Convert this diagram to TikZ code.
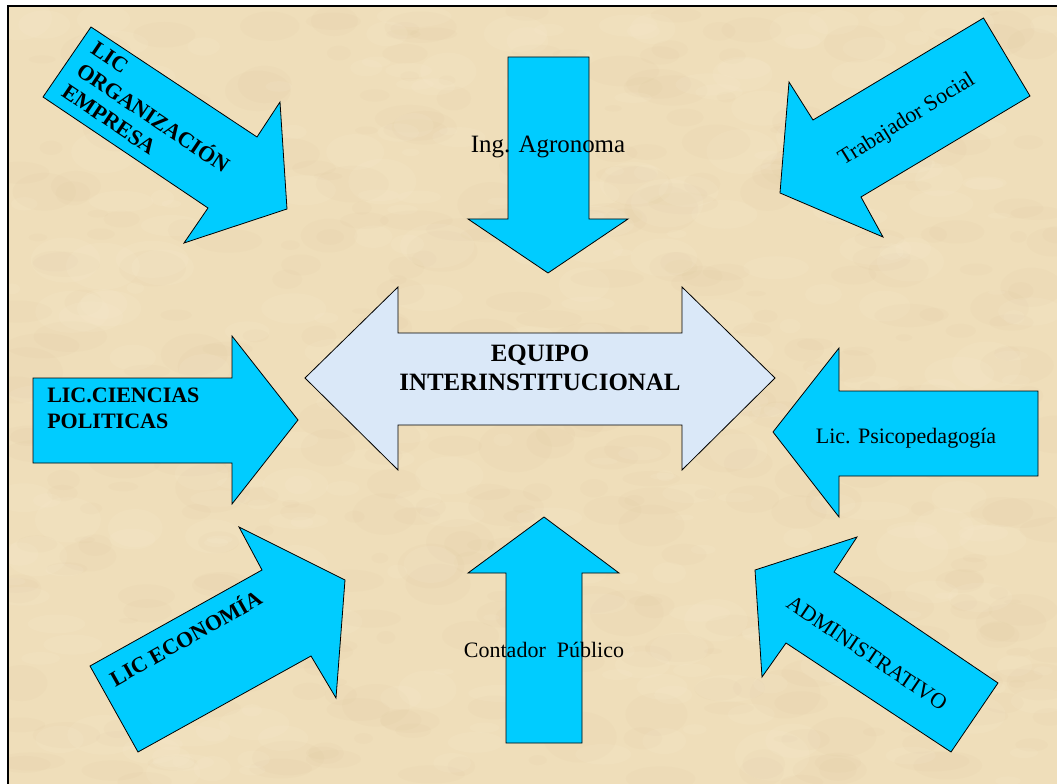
\documentclass[tikz,border=0pt]{standalone}
\usepackage{fontspec}
\setmainfont{Liberation Serif}
\definecolor{arrowcyan}{RGB}{0,204,255}
\definecolor{palecyan}{RGB}{218,232,248}
\definecolor{parchment}{RGB}{239,222,186}
\definecolor{blobdark}{RGB}{200,172,122}
\definecolor{bloblight}{RGB}{250,240,215}
\tikzset{
  bluearrow/.style={draw=black, line width=0.6pt, fill=arrowcyan, line join=miter},
  centerarrow/.style={draw=black, line width=0.6pt, fill=palecyan, line join=miter},
  lbl/.style={inner sep=0pt, font=\fontsize{16.5}{19.7}\selectfont},
  lblbold/.style={inner sep=0pt, font=\fontsize{16.5}{19.5}\selectfont\bfseries},
  lblbig/.style={inner sep=0pt, font=\fontsize{18.7}{21.8}\selectfont},
}
\begin{document}
\begin{tikzpicture}[x=0.75pt,y=-0.75pt]
\useasboundingbox (0,0) rectangle (1057,784);
\fill[white] (0,0) rectangle (1057,784);
% parchment background
\fill[parchment] (8,6) rectangle (1057,784);
\begin{scope}
\clip (8,6) rectangle (1057,784);
\pgfmathsetseed{12}
\foreach \i in {1,...,420}{
  \pgfmathsetmacro{\bx}{8+rnd*1049}
  \pgfmathsetmacro{\by}{6+rnd*778}
  \pgfmathsetmacro{\br}{8+rnd*30}
  \pgfmathsetmacro{\bs}{0.25+rnd*0.45}
  \fill[blobdark, opacity=0.045] (\bx,\by) ellipse [x radius=\br, y radius=\br*\bs];
}
\foreach \i in {1,...,300}{
  \pgfmathsetmacro{\bx}{8+rnd*1049}
  \pgfmathsetmacro{\by}{6+rnd*778}
  \pgfmathsetmacro{\br}{8+rnd*30}
  \pgfmathsetmacro{\bs}{0.25+rnd*0.45}
  \fill[bloblight, opacity=0.12] (\bx,\by) ellipse [x radius=\br, y radius=\br*\bs];
}
\end{scope}
\draw[black, line width=1.1pt] (8,784) -- (8,6) -- (1057,6);

% arrows
\draw[bluearrow] (91,27) -- (257,137) -- (280,102) -- (287,209) -- (184,243) -- (208,208) -- (43,97) -- cycle;
\draw[bluearrow] (508,57) -- (589,57) -- (589,219) -- (628,219) -- (548,273) -- (468,219) -- (508,219) -- cycle;
\draw[bluearrow] (983.5,18) -- (1030,96) -- (861,197) -- (883,237) -- (780,193) -- (789,82) -- (813,120) -- cycle;
\draw[centerarrow] (305,378) -- (398,287) -- (398,333) -- (682,333) -- (682,287) -- (775,378) -- (682,470) -- (682,425) -- (398,425) -- (398,470) -- cycle;
\draw[bluearrow] (33,378) -- (232,378) -- (232,336) -- (298,420) -- (232,504) -- (232,463) -- (33,463) -- cycle;
\draw[bluearrow] (773,432) -- (839,348) -- (839,391) -- (1038,391) -- (1038,476) -- (839,476) -- (839,517) -- cycle;
\draw[bluearrow] (90,666) -- (262,570) -- (239,527) -- (345,580) -- (336,698) -- (311,656) -- (138,752) -- cycle;
\draw[bluearrow] (544,517) -- (619,573) -- (582,573) -- (582,743) -- (506,743) -- (506,573) -- (468,573) -- cycle;
\draw[bluearrow] (755,570) -- (857,537) -- (834,572) -- (998,683) -- (951,752) -- (786,643) -- (762,677) -- cycle;

% labels
\node[lblbold, align=left, rotate=-34] (t1) at (153,118) {LIC\\ORGANIZACIÓN\\EMPRESA};
\node[lblbig, anchor=base] (t2) at (548,153) {Ing. Agronoma};
\node[lbl, rotate=32] (t3) at (907,120) {Trabajador Social};
\node[inner sep=0pt, align=center, font=\fontsize{18.7}{21.8}\selectfont\bfseries] (t4) at (540,368) {EQUIPO\\INTERINSTITUCIONAL};
\node[lblbold, align=left, anchor=west] (t5) at (47,408.5) {LIC.CIENCIAS\\POLITICAS};
\node[lbl, anchor=base] (t6) at (906,443) {Lic. Psicopedagogía};
\node[lblbold, rotate=29.5] (t7) at (185,637) {LIC ECONOMÍA};
\node[lbl, anchor=base] (t8) at (544,657) {Contador~~Público};
\node[lbl, rotate=-34] (t9) at (867,653) {ADMINISTRATIVO};
\end{tikzpicture}
\end{document}
